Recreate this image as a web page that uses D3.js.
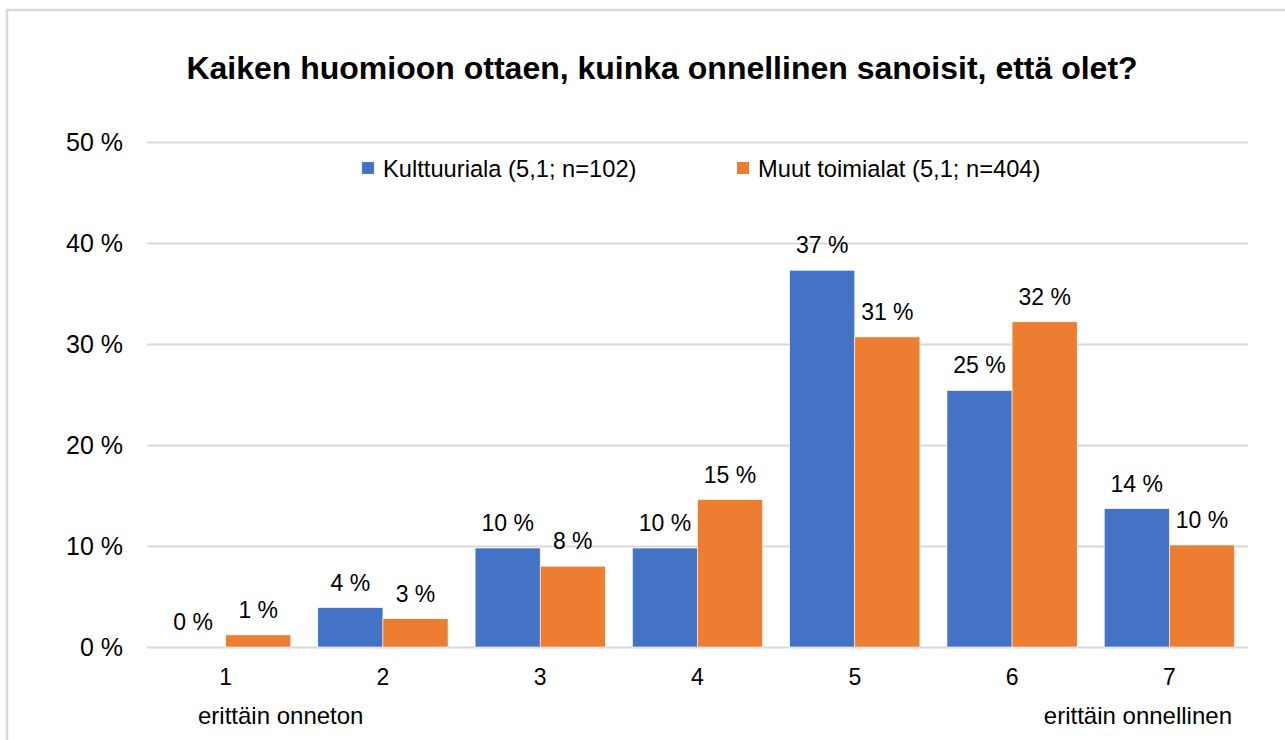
<!DOCTYPE html>
<html>
<head>
<meta charset="utf-8">
<script src="https://cdn.jsdelivr.net/npm/d3@7"></script>
<style>
  body { margin: 0; background: #fff; }
  svg { display: block; font-family: "Liberation Sans", Arial, sans-serif; }
</style>
</head>
<body>
<svg id="chart" width="1285" height="740"></svg>
<script>
// data (percent)
const categories = ['1', '2', '3', '4', '5', '6', '7']
const seriesNames = ['Kulttuuriala (5,1; n=102)', 'Muut toimialat (5,1; n=404)']
const kulttuuriala = [0, 3.9, 9.8, 9.8, 37.3, 25.4, 13.7]
const muutToimialat = [1.2, 2.8, 8.0, 14.6, 30.7, 32.2, 10.1]
const yTicks = [0, 10, 20, 30, 40, 50]
const endLabels = ['erittäin onneton', 'erittäin onnellinen']
const title = 'Kaiken huomioon ottaen, kuinka onnellinen sanoisit, että olet?'

const colors = ['#4472C4', '#ED7D31']
const series = [kulttuuriala, muutToimialat]

const svg = d3.select('#chart')
const plotLeft = 147
const plotRight = 1248
const plotTop = 142
const plotBottom = 647

// chart frame
svg.append('rect')
  .attr('x', 7).attr('y', 10)
  .attr('width', 1300).attr('height', 760)
  .attr('fill', '#fff')
  .attr('stroke', '#d9d9d9')
  .attr('stroke-width', 2.5)

svg.append('text')
  .attr('x', 662).attr('y', 79)
  .attr('text-anchor', 'middle')
  .style('font-size', '32px')
  .style('font-weight', 'bold')
  .text(title)

const x = d3.scaleBand()
  .domain(categories)
  .range([plotLeft, plotRight])
  .paddingInner(0.172)
  .paddingOuter(0.086)

const xs = d3.scaleBand()
  .domain(d3.range(series.length))
  .range([0, x.bandwidth()])

const y = d3.scaleLinear().domain([0, 50]).range([plotBottom, plotTop])

// gridlines + tick labels
const yAxis = svg.append('g')
  .attr('transform', `translate(${plotLeft},0)`)
  .call(d3.axisLeft(y)
    .tickValues(yTicks)
    .tickSize(-(plotRight - plotLeft))
    .tickPadding(24)
    .tickFormat(d => d + ' %'))
yAxis.select('.domain').remove()
yAxis.selectAll('line').attr('stroke', '#d9d9d9').attr('stroke-width', 2)
yAxis.selectAll('text')
  .attr('fill', '#000')
  .style('font-size', '25px')
  .style('font-family', '"Liberation Sans", Arial, sans-serif')

// bars
series.forEach((values, i) => {
  const g = svg.append('g')
  g.selectAll('rect')
    .data(values)
    .join('rect')
    .attr('x', (d, j) => x(categories[j]) + xs(i))
    .attr('y', d => y(d))
    .attr('width', xs.bandwidth())
    .attr('height', d => y(0) - y(d))
    .attr('fill', colors[i])
    .attr('stroke', '#fff')
    .attr('stroke-width', 0.6)

  g.selectAll('text')
    .data(values)
    .join('text')
    .attr('x', (d, j) => x(categories[j]) + xs(i) + xs.bandwidth() / 2)
    .attr('y', d => y(d) - 17)
    .attr('text-anchor', 'middle')
    .style('font-size', '23px')
    .attr('fill', '#000')
    .text(d => Math.round(d) + ' %')
})

// category axis
const xAxis = svg.append('g')
  .attr('transform', `translate(0,${plotBottom})`)
  .call(d3.axisBottom(x).tickSize(0).tickPadding(22))
xAxis.select('.domain').remove()
xAxis.selectAll('text')
  .attr('fill', '#000')
  .style('font-size', '23px')
  .style('font-family', '"Liberation Sans", Arial, sans-serif')

svg.append('text')
  .attr('x', plotLeft + 51).attr('y', 724)
  .style('font-size', '24px')
  .text(endLabels[0])
svg.append('text')
  .attr('x', plotRight - 16).attr('y', 724)
  .attr('text-anchor', 'end')
  .style('font-size', '24px')
  .text(endLabels[1])

// legend
const legendX = [362, 737]
seriesNames.forEach((name, i) => {
  const item = svg.append('g').attr('transform', `translate(${legendX[i]},162)`)
  item.append('rect')
    .attr('width', 12).attr('height', 12)
    .attr('fill', colors[i])
  item.append('text')
    .attr('x', 21).attr('y', 15)
    .style('font-size', '23.7px')
    .text(name)
})
</script>
</body>
</html>
